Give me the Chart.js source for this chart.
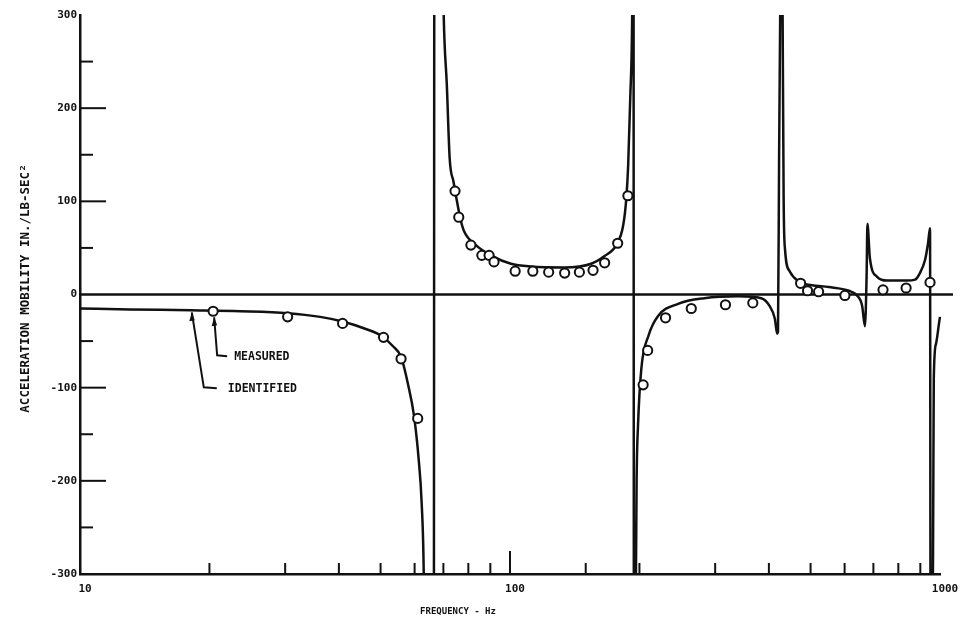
<!DOCTYPE html>
<html><head><meta charset="utf-8">
<script src="https://cdn.jsdelivr.net/npm/chart.js@4.4.0/dist/chart.umd.min.js"></script>
<style>html,body{margin:0;padding:0;background:#fff;}canvas{display:block;}</style>
</head><body>
<canvas id="c" width="972" height="627"></canvas>
<script>
// ---- data ----
const idFreq = [10, 13.07, 18.1, 23.6, 30.4, 36.2, 40.8, 46.2, 50.5, 53.3, 55.8, 57.9, 59.8, 61.3, 62.3, 63.0, 63.3,
  66.5, 66.7,
  69.6, 70.1, 71.3, 72.4, 73.9, 76.8, 78.2, 83.3, 90.3, 100.5, 111.9, 133.6, 154.5, 165.6, 176.6, 183.3, 186.4, 188.3, 190.4, 192.4, 193.0,
  193.8, 194.1,
  195.9, 196.3, 197.0, 198.5, 202, 210, 221, 246, 283, 340, 384, 401, 413, 418, 420, 422.5, 425, 426.5,
  429.5, 430.5, 432.9, 436, 447, 469, 503, 551, 614, 641, 659, 669, 675, 678, 687, 714, 753, 838, 875, 898, 923, 938, 948,
  951, 960, 965, 967.3, 978.8, 1000, 1016, 1027];
const idVals = [-15, -16, -17, -18, -20, -24, -29, -37, -45, -55, -67, -96, -130, -176, -223, -298, -400,
  -400, 400,
  400, 302, 225, 146, 121, 80, 68, 53, 42, 33, 30, 29, 33, 41, 53, 74, 103, 139, 211, 302, 400,
  400, -400,
  -400, -300, -200, -140, -80, -44, -23, -10, -4, -2, -4, -12, -26, -42, -40, 150, 302, 400,
  400, 302, 103, 49, 25, 14, 10, 8, 4, -1, -12, -34, 20, 76, 39, 19, 15, 15, 16, 23, 37, 55, 71,
  -400, -400, -200, -90, -53, -24, -11, -7];

const measFreq = [20.4, 30.4, 40.8, 50.8, 55.8, 61.0, 74.5, 76.0, 81.1, 86.0, 89.4, 91.8, 102.8, 113, 123, 134, 145, 156,
  166, 178, 188, 204, 209, 230, 264, 317, 367, 474, 492, 522, 601, 737, 834, 948];
const measVals = [-18, -24, -31, -46, -69, -133, 111, 83, 53, 42, 42, 35, 25, 25, 24, 23, 24, 26,
  34, 55, 106, -97, -60, -25, -15, -11, -9, 12, 4, 3, -1, 5, 7, 13];

const xTickLabels = [10, 100, 1000];
const yTickLabels = [300, 200, 100, 0, -100, -200, -300];
const xTitle = 'FREQUENCY - Hz';
const yTitle = 'ACCELERATION MOBILITY IN./LB-SEC\u00B2';
const legendTexts = ['MEASURED', 'IDENTIFIED'];

const INK = '#111';
const MONO = '"DejaVu Sans Mono", "Liberation Mono", monospace';

// ---- plugins ----
const decorPlugin = {
  id: 'decor',
  beforeDatasetsDraw(chart) {
    const {ctx, chartArea: a, scales: {x, y}} = chart;
    ctx.save();
    ctx.strokeStyle = INK;
    ctx.lineCap = 'butt';
    // zero line
    const y0 = y.getPixelForValue(0);
    ctx.lineWidth = 2.5;
    ctx.beginPath(); ctx.moveTo(a.left, y0); ctx.lineTo(a.right + 13, y0); ctx.stroke();
    // inside ticks on x
    ctx.lineWidth = 2;
    x.ticks.forEach(t => {
      const v = t.value;
      if (v <= x.min || v >= x.max) return;
      const px = x.getPixelForValue(v);
      const len = xTickLabels.includes(v) ? 23 : 11;
      ctx.beginPath(); ctx.moveTo(px, a.bottom); ctx.lineTo(px, a.bottom - len); ctx.stroke();
    });
    // inside ticks on y
    y.ticks.forEach(t => {
      const v = t.value;
      if (v <= y.min || v >= y.max || v === 0) return;
      const py = y.getPixelForValue(v);
      const len = yTickLabels.includes(v) ? 26 : 13;
      ctx.beginPath(); ctx.moveTo(a.left, py); ctx.lineTo(a.left + len, py); ctx.stroke();
    });
    ctx.restore();
  },
  afterDraw(chart) {
    const {ctx, chartArea: a, scales: {x, y}} = chart;
    ctx.save();
    ctx.fillStyle = INK;
    ctx.strokeStyle = INK;
    // axis titles
    ctx.font = 'bold 9px ' + MONO;
    ctx.textAlign = 'center';
    ctx.textBaseline = 'middle';
    ctx.fillText(xTitle, (a.left + a.right) / 2 - 52, a.bottom + 38);
    ctx.save();
    ctx.translate(26, (a.top + a.bottom) / 2 - 6);
    ctx.rotate(-Math.PI / 2);
    ctx.font = 'bold 12.5px ' + MONO;
    ctx.fillText(yTitle, 0, 0);
    ctx.restore();
    // leader annotations
    const anchors = [
      [x.getPixelForValue(measFreq[0]), y.getPixelForValue(measVals[0])],
      [x.getPixelForValue(idFreq[2]), y.getPixelForValue(idVals[2])]
    ];
    const legs = [
      {start: [1, 6], bend: [4, 44], end: [14, 45], text: 21},
      {start: [1, 2], bend: [13, 77], end: [26, 78], text: 37}
    ];
    ctx.lineWidth = 2;
    ctx.font = 'bold 11.5px ' + MONO;
    ctx.textAlign = 'left';
    legs.forEach((g, i) => {
      const [ax, ay] = anchors[i];
      ctx.beginPath();
      ctx.moveTo(ax + g.start[0], ay + g.start[1]);
      ctx.lineTo(ax + g.bend[0], ay + g.bend[1]);
      ctx.lineTo(ax + g.end[0], ay + g.end[1]);
      ctx.stroke();
      // small arrowhead
      const sx = ax + g.start[0], sy = ay + g.start[1];
      ctx.beginPath();
      ctx.moveTo(sx, sy);
      ctx.lineTo(sx - 2.5, sy + 9);
      ctx.lineTo(sx + 3, sy + 8);
      ctx.closePath();
      ctx.fill();
      ctx.fillText(legendTexts[i], ax + g.text, ay + g.end[1] + 1);
    });
    ctx.restore();
  }
};

const identified = idFreq.map((f, i) => ({x: f, y: idVals[i]}));
const measured = measFreq.map((f, i) => ({x: f, y: measVals[i]}));

new Chart(document.getElementById('c'), {
  type: 'line',
  data: {
    datasets: [
      {
        label: 'MEASURED', data: measured, showLine: false,
        pointStyle: 'circle', pointRadius: 4.6, pointBorderWidth: 2,
        pointBackgroundColor: '#fff', pointBorderColor: INK, borderColor: INK, backgroundColor: '#fff'
      },
      {
        label: 'IDENTIFIED', data: identified, borderColor: INK, borderWidth: 2.5,
        pointRadius: 0, fill: false, cubicInterpolationMode: 'monotone',
        clip: {left: 0, top: 0, right: 14, bottom: 0}
      }
    ]
  },
  options: {
    responsive: false,
    animation: false,
    devicePixelRatio: 1,
    layout: {padding: {left: 0, right: 32, top: 15, bottom: 0}},
    plugins: {legend: {display: false}, tooltip: {enabled: false}},
    scales: {
      x: {
        type: 'logarithmic', min: 10, max: 1000,
        afterFit(s) { s.height = 53; },
        grid: {display: true, drawOnChartArea: false, drawTicks: false},
        border: {display: true, color: INK, width: 2.5},
        ticks: {
          autoSkip: false, maxRotation: 0, padding: 9, labelOffset: 5, color: INK,
          font: {family: MONO, weight: 'bold', size: 11},
          callback: (v) => xTickLabels.includes(v) ? String(v) : ''
        }
      },
      y: {
        type: 'linear', min: -300, max: 300,
        afterFit(s) { s.width = 80; },
        grid: {display: true, drawOnChartArea: false, drawTicks: false},
        border: {display: true, color: INK, width: 2.5},
        ticks: {
          stepSize: 50, padding: 3, color: INK,
          font: {family: MONO, weight: 'bold', size: 11},
          callback: (v) => yTickLabels.includes(v) ? String(v) : ''
        }
      }
    }
  },
  plugins: [decorPlugin]
});
</script>
</body></html>
